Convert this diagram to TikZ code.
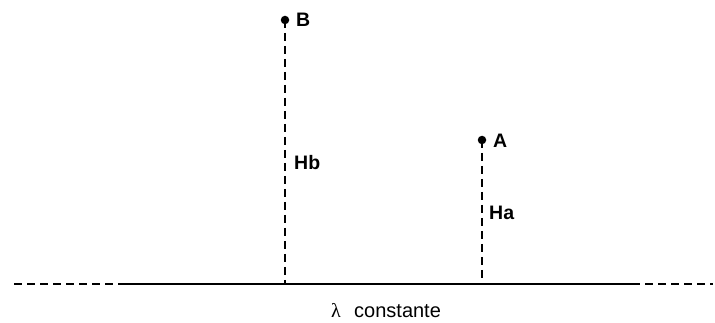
\documentclass[tikz,border=0pt]{standalone}
\usepackage{fontspec}
\setmainfont{Liberation Sans}
\newfontfamily\lamfont{Liberation Serif}
\begin{document}
\begin{tikzpicture}[x=1pt,y=-1pt,
  lbl/.style={font=\fontsize{19.5}{19.5}\selectfont\bfseries, inner sep=0pt, anchor=base west},
  dsh/.style={line width=2.2pt, dash pattern=on 8pt off 5pt},
  dot/.style={circle, fill=black, inner sep=0pt, minimum size=8.5pt}]
\useasboundingbox (0,0) rectangle (715,323);
% ground
\coordinate (L0) at (14,284);
\coordinate (L1) at (119,284);
\coordinate (R1) at (632,284);
\coordinate (R0) at (713,284);
\coordinate (FB) at (285,284);
\coordinate (FA) at (482,284);
\draw[dsh] (L0) -- (L1);
\draw[line width=2.5pt] (L1) -- (R1);
\draw[dsh] (R1) -- (R0);
% points
\node[dot] (B) at (285,20) {};
\node[dot] (A) at (482,140) {};
\draw[dsh] (B.center) -- (FB);
\draw[dsh] (A.center) -- (FA);
\node[lbl] (Bl) at (296,26.5) {B};
\node[lbl] (Al) at (493,148) {A};
\node[lbl] (Hb) at (294,170) {Hb};
\node[lbl] (Ha) at (489,220) {Ha};
\node[font=\fontsize{20}{20}\lamfont, inner sep=0pt, anchor=base] (lam) at (336,317) {λ};
\node[font=\fontsize{20}{20}\selectfont, inner sep=0pt, anchor=base west] (cst) at (354,317) {constante};
\end{tikzpicture}
\end{document}
